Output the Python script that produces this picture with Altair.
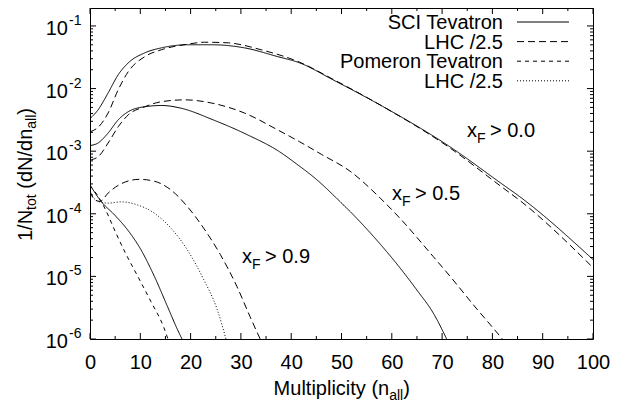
import altair as alt
import pandas as pd

# ---------------- data ----------------
# x_F > 0.0  (SCI model)
sci_tev_f00_x = [0, 1.6, 3.6, 5.6, 7.6, 10.9, 14.2, 19.5, 24.1, 30.7, 37.3, 41.7, 48.3, 58.3, 71.6, 81.5, 85.5, 100]
sci_tev_f00_y = [3.31e-3, 4.57e-3, 8.51e-3, 1.66e-2, 2.57e-2, 3.72e-2, 4.47e-2, 5.01e-2, 5.01e-2, 4.47e-2,
                 3.24e-2, 2.57e-2, 1.38e-2, 5.13e-3, 1.17e-3, 3.16e-4, 1.86e-4, 1.86e-5]
sci_lhc_f00_x = [0, 1.6, 3.6, 5.6, 7.6, 10.9, 14.2, 19.5, 22.8, 27.5, 34, 41.7, 48.3, 58.3, 71.6, 81.5, 85.5, 100]
sci_lhc_f00_y = [2.04e-3, 2.4e-3, 4.07e-3, 9.55e-3, 1.86e-2, 3.24e-2, 4.17e-2, 5.13e-2, 5.5e-2, 5.37e-2,
                 4.17e-2, 2.63e-2, 1.41e-2, 5.13e-3, 1.12e-3, 2.82e-4, 1.62e-4, 1.38e-5]
# x_F > 0.5  (SCI model)
sci_tev_f05_x = [0, 1.6, 3.6, 5.6, 7.6, 10.9, 14.3, 17.9, 24.5, 31.1, 37.7, 41, 45, 49, 53, 57, 61, 65, 68.2, 71.5]
sci_tev_f05_y = [1.23e-3, 1.35e-3, 1.95e-3, 3.16e-3, 4.27e-3, 5.13e-3, 5.37e-3, 4.9e-3, 3.16e-3, 1.86e-3,
                 9.77e-4, 6.31e-4, 3.55e-4, 1.78e-4, 8.51e-5, 3.8e-5, 1.58e-5, 6.03e-6, 2.63e-6, 7.94e-7]
sci_lhc_f05_x = [0, 1.6, 3.6, 5.6, 7.6, 10.9, 14.2, 18.9, 24.1, 30.7, 37.3, 41.7, 46, 51.7, 57.7, 61.6, 68.2,
                 71.6, 76.9, 80.2, 82.5]
sci_lhc_f05_y = [7.24e-4, 8.13e-4, 1.35e-3, 2.45e-3, 3.8e-3, 5.13e-3, 6.17e-3, 6.61e-3, 5.89e-3, 4.07e-3,
                 2.19e-3, 1.41e-3, 8.91e-4, 4.79e-4, 1.78e-4, 8.51e-5, 2.09e-5, 1e-5, 3.02e-6, 1.48e-6, 8.9e-7]
# x_F > 0.9  (SCI and Pomeron models)
sci_tev_f09_x = [0, 2.2, 4.9, 7.5, 10.1, 12.8, 15.4, 17.4, 18.8]
sci_tev_f09_y = [2.88e-4, 1.58e-4, 9.55e-5, 5.5e-5, 2.69e-5, 1e-5, 3.31e-6, 1.41e-6, 8.3e-7]
sci_lhc_f09_x = [0, 1, 2, 3.6, 6.2, 9.8, 12.8, 16.1, 19.3, 22.6, 25.9, 29.2, 31.8, 34.3]
sci_lhc_f09_y = [2.29e-4, 1.66e-4, 1.58e-4, 2.14e-4, 3.02e-4, 3.55e-4, 3.31e-4, 2.4e-4, 1.32e-4, 5.89e-5,
                 2.24e-5, 6.92e-6, 2.29e-6, 8.3e-7]
pom_tev_f09_x = [0, 1, 2, 3, 5, 7, 9.5, 12.1, 14.7, 15.7]
pom_tev_f09_y = [2.82e-4, 2.24e-4, 1.7e-4, 1.2e-4, 5.25e-5, 2.4e-5, 1e-5, 3.98e-6, 1.51e-6, 8.9e-7]
pom_lhc_f09_x = [0, 1.6, 3.6, 6.2, 9.5, 12.8, 16.1, 19.3, 22.6, 25.3, 27.2]
pom_lhc_f09_y = [2.09e-4, 1.58e-4, 1.48e-4, 1.55e-4, 1.38e-4, 1.02e-4, 5.89e-5, 2.69e-5, 8.91e-6, 2.95e-6, 8.9e-7]

series_styles = ["sci_tev", "sci_lhc", "pom_tev", "pom_lhc"]
legend_labels = ["SCI Tevatron", "LHC /2.5", "Pomeron Tevatron", "LHC /2.5"]
x_major = list(range(0, 101, 10))
x_minor = list(range(5, 100, 10))
y_exponents = [-6, -5, -4, -3, -2, -1]
y_exp_labels = ["-6", "-5", "-4", "-3", "-2", "-1"]

# ---------------- build table ----------------
curves = [
    ("tev00", "sci_tev", sci_tev_f00_x, sci_tev_f00_y),
    ("lhc00", "sci_lhc", sci_lhc_f00_x, sci_lhc_f00_y),
    ("tev05", "sci_tev", sci_tev_f05_x, sci_tev_f05_y),
    ("lhc05", "sci_lhc", sci_lhc_f05_x, sci_lhc_f05_y),
    ("tev09", "sci_tev", sci_tev_f09_x, sci_tev_f09_y),
    ("lhc09", "sci_lhc", sci_lhc_f09_x, sci_lhc_f09_y),
    ("ptev09", "pom_tev", pom_tev_f09_x, pom_tev_f09_y),
    ("plhc09", "pom_lhc", pom_lhc_f09_x, pom_lhc_f09_y),
]
rows = []
for name, style, xv, yv in curves:
    for i, (a, b) in enumerate(zip(xv, yv)):
        rows.append({"curve": name, "style": style, "x": a, "y": b, "order": i})
df = pd.DataFrame(rows)

W, H = 503, 331
FONT = "Liberation Sans"
DASHES = [[1, 0], [7, 4], [4, 4], [1, 2]]

xs = alt.Scale(domain=[0, 100], nice=False)
ys = alt.Scale(type="log", domain=[1e-6, 0.1936], nice=False)

x_axis = alt.Axis(values=x_major, title=None, grid=False, domain=False, ticks=False, tickSize=0,
                  labelFont=FONT, labelFontSize=20, labelColor="black", labelPadding=13,
                  labelFlush=False, labelOverlap=False)

lines = alt.Chart(df).mark_line(clip=True, strokeWidth=1, color="black", interpolate="monotone").encode(
    x=alt.X("x:Q", scale=xs, axis=x_axis),
    y=alt.Y("y:Q", scale=ys, axis=None),
    detail="curve:N",
    order="order:Q",
    strokeDash=alt.StrokeDash("style:N", scale=alt.Scale(domain=series_styles, range=DASHES), legend=None),
)

layers = [lines]

# inward ticks on all four sides
def xticks(vals, length):
    d = pd.DataFrame({"x": vals})
    base = alt.Chart(d).mark_rule(color="black", strokeWidth=1)
    bot = base.encode(x=alt.X("x:Q", scale=xs, axis=x_axis), y=alt.value(H), y2=alt.value(H - length))
    top = base.encode(x=alt.X("x:Q", scale=xs, axis=x_axis), y=alt.value(0), y2=alt.value(length))
    return [bot, top]

def yticks(vals, length):
    d = pd.DataFrame({"y": vals})
    base = alt.Chart(d).mark_rule(color="black", strokeWidth=1)
    left = base.encode(y=alt.Y("y:Q", scale=ys, axis=None), x=alt.value(0), x2=alt.value(length))
    right = base.encode(y=alt.Y("y:Q", scale=ys, axis=None), x=alt.value(W), x2=alt.value(W - length))
    return [left, right]

y_major = [10.0 ** e for e in y_exponents]
y_minor = [k * 10.0 ** e for e in y_exponents for k in range(2, 10) if k * 10.0 ** e < 0.1936]
layers += xticks(x_major, 6) + xticks(x_minor, 3) + yticks(y_major, 6) + yticks(y_minor, 3)

# y tick labels 10^e
ylab = pd.DataFrame({"v": y_major, "e": y_exp_labels})
layers.append(alt.Chart(ylab).mark_text(align="right", baseline="alphabetic", fontSize=20, font=FONT,
                                        color="black", dy=9, text="10").encode(
    y=alt.Y("v:Q", scale=ys, axis=None), x=alt.value(-22)))
layers.append(alt.Chart(ylab).mark_text(align="left", baseline="alphabetic", fontSize=14, font=FONT,
                                        color="black", dy=-1).encode(
    y=alt.Y("v:Q", scale=ys, axis=None), x=alt.value(-21), text="e:N"))

one = pd.DataFrame({"a": [0]})

def txt(s, x, y, size=20, angle=0, align="left"):
    return alt.Chart(one).mark_text(text=s, fontSize=size, font=FONT, align=align, baseline="alphabetic",
                                    angle=angle, color="black").encode(x=alt.value(x), y=alt.value(y))

# y axis title: 1/N_tot (dN/dn_all), rotated
ty = 233
layers.append(txt("1/N", -58, ty, angle=270))
layers.append(txt("tot", -54, ty - 31.1, size=14, angle=270))
layers.append(txt("(dN/dn", -58, ty - 52.3, angle=270))
layers.append(txt("all", -54, ty - 112.3, size=14, angle=270))
layers.append(txt(")", -58, ty - 126.3, angle=270))

# x axis title: Multiplicity (n_all)
layers.append(txt("Multiplicity (n", 183.6, 387))
layers.append(txt("all", 299.2, 392, size=14))
layers.append(txt(")", 313.2, 387))

# x_F annotations
def xf_label(x0, yb, rest):
    return [txt("x", x0, yb), txt("F", x0 + 10, yb + 6, size=14), txt(rest, x0 + 23, yb)]

layers += xf_label(377, 129, "> 0.0")
layers += xf_label(302, 192, "> 0.5")
layers += xf_label(152, 255, "> 0.9")

# legend (top right)
for i, (lab, dash) in enumerate(zip(legend_labels, DASHES)):
    ly = 14 + 19.6 * i
    layers.append(txt(lab, 413, ly + 7, align="right"))
    layers.append(alt.Chart(one).mark_rule(color="black", strokeWidth=1, strokeDash=dash).encode(
        x=alt.value(427), x2=alt.value(479), y=alt.value(ly)))

chart = alt.layer(*layers).properties(
    width=W, height=H,
    autosize=alt.AutoSizeParams(type="none"),
    padding={"left": 82, "top": 0, "right": 25, "bottom": 67},
    background="white",
).configure_view(stroke="black", strokeWidth=1)

chart.save("out.html", embed_options={"renderer": "svg", "actions": False})
